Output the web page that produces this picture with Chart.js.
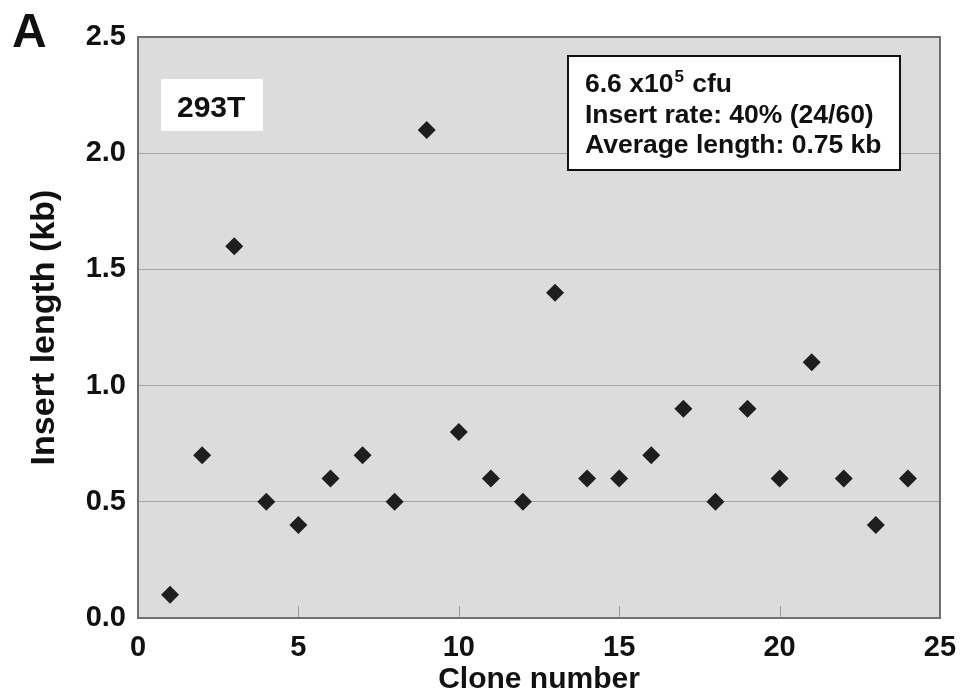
<!DOCTYPE html>
<html>
<head>
<meta charset="utf-8">
<script src="https://cdn.jsdelivr.net/npm/chart.js@4.4.1/dist/chart.umd.min.js"></script>
<style>
  html, body { margin: 0; padding: 0; background: #fff; }
  #wrap { width: 960px; height: 698px; }
</style>
</head>
<body>
<div id="wrap"><canvas id="insertChart" width="960" height="698"></canvas></div>
<script>
// Clone numbers and measured insert lengths (kb)
const cloneNumbers = [1, 2, 3, 4, 5, 6, 7, 8, 9, 10, 11, 12, 13, 14, 15, 16, 17, 18, 19, 20, 21, 22, 23, 24];
const insertLengths = [0.1, 0.7, 1.6, 0.5, 0.4, 0.6, 0.7, 0.5, 2.1, 0.8, 0.6, 0.5, 1.4, 0.6, 0.6, 0.7, 0.9, 0.5, 0.9, 0.6, 1.1, 0.6, 0.4, 0.6];
const xTicks = [0, 5, 10, 15, 20, 25];
const yTicks = [0, 0.5, 1.0, 1.5, 2.0, 2.5];

const cellLine = '293T';
const infoLines = ['Insert rate: 40% (24/60)', 'Average length: 0.75 kb'];

const FONT = '"Liberation Sans", Arial, Helvetica, sans-serif';
const TEXT = '#111111';

// Grey plot area, frame, inward x ticks and the text boxes
const decorPlugin = {
  id: 'decor',
  beforeDraw(chart) {
    const { ctx, chartArea: a } = chart;
    ctx.save();
    ctx.fillStyle = '#dcdcdc';
    ctx.fillRect(a.left, a.top, a.right - a.left, a.bottom - a.top);
    ctx.restore();
  },
  beforeDatasetsDraw(chart) {
    const { ctx, chartArea: a, scales } = chart;
    ctx.save();

    // short inward ticks on the x axis
    ctx.strokeStyle = '#9a9a9a';
    ctx.lineWidth = 1;
    xTicks.slice(1, -1).forEach(v => {
      const px = Math.round(scales.x.getPixelForValue(v)) + 0.5;
      ctx.beginPath();
      ctx.moveTo(px, a.bottom);
      ctx.lineTo(px, a.bottom - 12);
      ctx.stroke();
    });

    // frame
    ctx.strokeStyle = '#707070';
    ctx.lineWidth = 2;
    ctx.strokeRect(a.left, a.top, a.right - a.left, a.bottom - a.top);

    // cell line label
    ctx.fillStyle = '#ffffff';
    ctx.fillRect(a.left + 23, a.top + 42, 102, 52);
    ctx.fillStyle = TEXT;
    ctx.font = 'bold 30px ' + FONT;
    ctx.textBaseline = 'alphabetic';
    ctx.textAlign = 'left';
    ctx.fillText(cellLine, a.left + 39, a.top + 80);

    // info box
    const bx = a.left + 430, by = a.top + 19, bw = 332, bh = 114;
    ctx.fillStyle = '#ffffff';
    ctx.fillRect(bx, by, bw, bh);
    ctx.strokeStyle = '#111111';
    ctx.lineWidth = 2;
    ctx.strokeRect(bx, by, bw, bh);

    ctx.fillStyle = TEXT;
    const tx = bx + 17;
    const big = 'bold 26.5px ' + FONT;
    ctx.font = big;
    let x = tx;
    let y = by + 36;
    ctx.fillText('6.6 x10', x, y);
    x += ctx.measureText('6.6 x10').width + 1;
    ctx.font = 'bold 17px ' + FONT;
    ctx.fillText('5', x, y - 10);
    x += ctx.measureText('5').width + 1;
    ctx.font = big;
    ctx.fillText(' cfu', x, y);
    infoLines.forEach((line, i) => {
      ctx.fillText(line, tx, y + 31 + i * 30);
    });
    ctx.restore();
  },
  afterDraw(chart) {
    const { ctx } = chart;
    ctx.save();
    ctx.fillStyle = TEXT;
    ctx.font = 'bold 48px ' + FONT;
    ctx.textBaseline = 'alphabetic';
    ctx.fillText('A', 12, 47);
    ctx.restore();
  }
};

const ctx = document.getElementById('insertChart').getContext('2d');
new Chart(ctx, {
  type: 'scatter',
  data: {
    datasets: [{
      label: 'Insert length',
      data: cloneNumbers.map((c, i) => ({ x: c, y: insertLengths[i] })),
      pointStyle: 'rectRot',
      pointRadius: 9,
      pointHoverRadius: 9,
      backgroundColor: '#1e1e1e',
      borderColor: '#1e1e1e',
      borderWidth: 0
    }]
  },
  options: {
    responsive: false,
    animation: false,
    events: [],
    layout: { padding: { top: 37, right: 20, left: 0, bottom: 0 } },
    plugins: {
      legend: { display: false },
      tooltip: { enabled: false }
    },
    scales: {
      x: {
        type: 'linear',
        min: 0,
        max: 25,
        afterBuildTicks(scale) {
          scale.ticks = xTicks.map(v => ({ value: v }));
        },
        afterFit(scale) {
          scale.height = 80;
          scale.paddingLeft = 0;
          scale.paddingRight = 0;
        },
        grid: { display: false, drawTicks: false },
        border: { display: false },
        ticks: {
          padding: 13,
          color: TEXT,
          maxRotation: 0,
          font: { family: FONT, size: 29, weight: 'bold' }
        },
        title: {
          display: true,
          text: 'Clone number',
          color: TEXT,
          padding: { top: 0, bottom: 0 },
          font: { family: FONT, size: 30, weight: 'bold' }
        }
      },
      y: {
        type: 'linear',
        min: 0,
        max: 2.5,
        afterBuildTicks(scale) {
          scale.ticks = yTicks.map(v => ({ value: v }));
        },
        afterFit(scale) { scale.width = 138; },
        grid: { color: '#a4a4a4', lineWidth: 1, drawTicks: false },
        border: { display: false },
        ticks: {
          padding: 12,
          color: TEXT,
          callback: v => Number(v).toFixed(1),
          font: { family: FONT, size: 29, weight: 'bold' }
        },
        title: {
          display: true,
          text: 'Insert length (kb)',
          color: TEXT,
          padding: { top: 24, bottom: 0 },
          font: { family: FONT, size: 34, weight: 'bold' }
        }
      }
    }
  },
  plugins: [decorPlugin]
});
</script>
</body>
</html>
